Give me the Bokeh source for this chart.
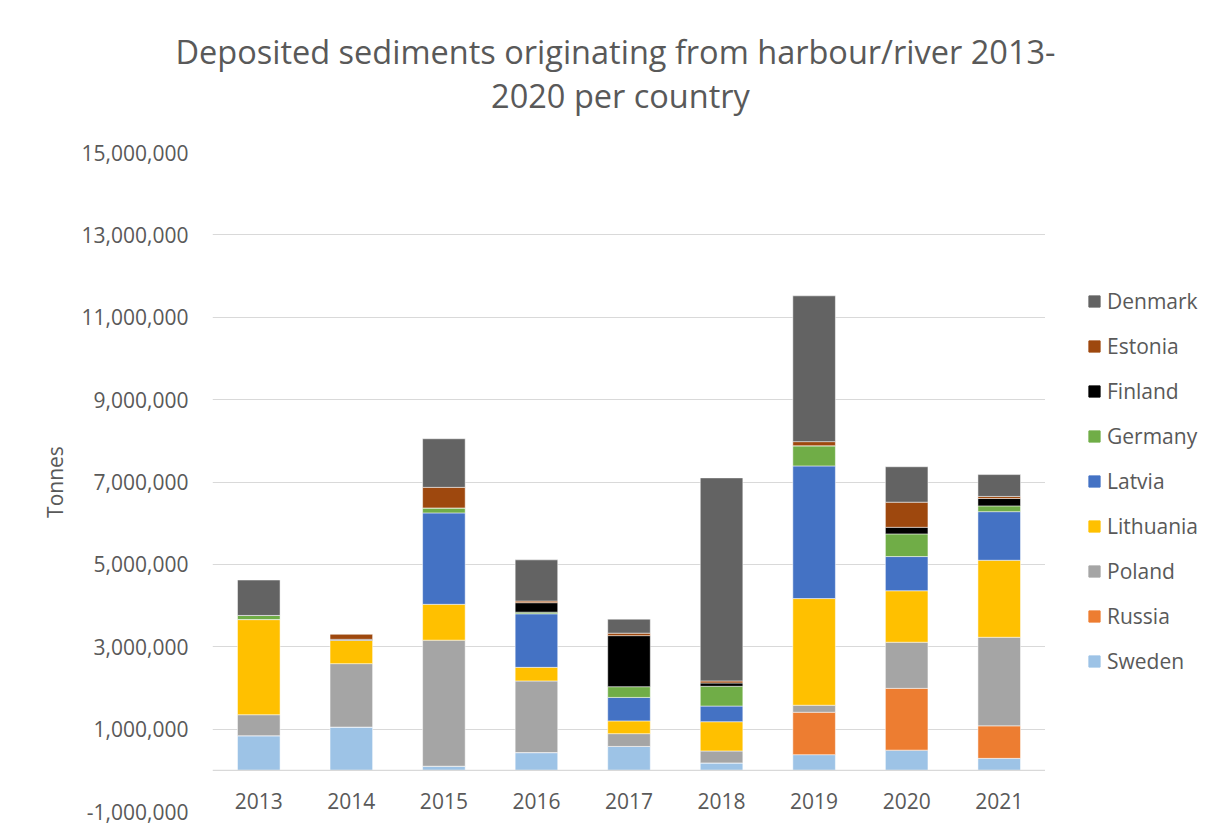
from bokeh.plotting import figure
from bokeh.models import (FactorRange, Range1d, FixedTicker, NumeralTickFormatter, Span,
                          Legend, LegendItem, Label, ColumnDataSource)
from bokeh.layouts import row, column
from bokeh.core.properties import value
from bokeh.embed import file_html
from bokeh.resources import INLINE

years = ["2013", "2014", "2015", "2016", "2017", "2018", "2019", "2020", "2021"]

# values in tonnes, stacked bottom -> top
Sweden    = [840000, 1050000,  100000,  430000,  580000,  180000,  380000,  490000,  290000]
Russia    = [     0,       0,       0,       0,       0,       0, 1030000, 1500000,  790000]
Poland    = [510000, 1540000, 3060000, 1740000,  310000,  290000,  170000, 1120000, 2150000]
Lithuania = [2310000, 570000,  870000,  330000,  310000,  710000, 2590000, 1250000, 1870000]
Latvia    = [     0,       0, 2220000, 1300000,  570000,  380000, 3220000,  830000, 1180000]
Germany   = [100000,       0,  120000,   40000,  260000,  480000,  490000,  550000,  140000]
Finland   = [     0,   20000,       0,  230000, 1240000,   80000,       0,  160000,  180000]
Estonia   = [     0,  130000,  500000,   40000,   60000,   50000,  100000,  610000,   50000]
Denmark   = [860000,       0, 1180000, 1000000,  340000, 4930000, 3540000,  860000,  530000]

countries = ["Sweden", "Russia", "Poland", "Lithuania", "Latvia", "Germany", "Finland", "Estonia", "Denmark"]
colors = ["#9DC3E6", "#ED7D31", "#A5A5A5", "#FFC000", "#4472C4", "#70AD47", "#000000", "#9E480E", "#636363"]

y_ticks = [-1000000, 1000000, 3000000, 5000000, 7000000, 9000000, 11000000, 13000000, 15000000]
y_min, y_max = -1000000, 15000000
label_y = -740000

title_line1 = "Deposited sediments originating from harbour/river 2013-"
title_line2 = "2020 per country"
y_label = "Tonnes"

FONT = "Open Sans"
TXT = "#595959"
GRID = "#D9D9D9"

# ---------- title strip ----------
tf = figure(width=1212, height=130, x_range=Range1d(0, 1), y_range=Range1d(0, 1),
            title=None, output_backend="svg", toolbar_location=None,
            x_axis_location=None, y_axis_location=None,
            min_border_left=0, min_border_right=0, min_border_top=0, min_border_bottom=0)
tf.grid.visible = False
tf.outline_line_color = None
tf.border_fill_color = "white"
tf.add_layout(Label(x=615, y=79, x_units="screen", y_units="screen", text=title_line1,
                    text_align="center", text_baseline="middle", text_font=FONT,
                    text_font_size="32.5px", text_color=TXT))
tf.add_layout(Label(x=620, y=35, x_units="screen", y_units="screen", text=title_line2,
                    text_align="center", text_baseline="middle", text_font=FONT,
                    text_font_size="32.5px", text_color=TXT))

# ---------- main chart ----------
data = dict(year=years, Sweden=Sweden, Russia=Russia, Poland=Poland, Lithuania=Lithuania,
            Latvia=Latvia, Germany=Germany, Finland=Finland, Estonia=Estonia, Denmark=Denmark)
source = ColumnDataSource(data)

p = figure(x_range=FactorRange(factors=years, range_padding=0),
           y_range=Range1d(y_min, y_max),
           width=1045, height=700, title=None,
           output_backend="svg", toolbar_location=None,
           min_border_left=212, min_border_right=0, min_border_top=22, min_border_bottom=19)
p.outline_line_color = None
p.background_fill_color = "white"
p.border_fill_color = "white"

renderers = p.vbar_stack(countries, x="year", width=0.46, color=colors, source=source,
                         line_color="white", line_width=0.5)

# zero line
p.add_layout(Span(location=0, dimension="width", line_color=GRID, line_width=1.2))

# category labels next to the zero axis
lab_src = ColumnDataSource(dict(year=years, ly=[label_y] * len(years)))
p.text(x="year", y="ly", text="year", source=lab_src, text_align="center", text_baseline="middle",
       text_font=value(FONT), text_font_size="21px", text_color=TXT)

p.xaxis.visible = False
p.xgrid.visible = False

p.yaxis.ticker = FixedTicker(ticks=y_ticks)
p.ygrid.ticker = FixedTicker(ticks=y_ticks)
p.ygrid.grid_line_color = GRID
p.ygrid.grid_line_width = 1.2
p.yaxis.formatter = NumeralTickFormatter(format="0,0")
p.yaxis.axis_line_color = None
p.yaxis.major_tick_line_color = None
p.yaxis.minor_tick_line_color = None
p.yaxis.major_tick_out = 0
p.yaxis.major_tick_in = 0
p.yaxis.major_label_standoff = 24
p.yaxis.major_label_text_font = FONT
p.yaxis.major_label_text_font_size = "21px"
p.yaxis.major_label_text_color = TXT
p.yaxis.axis_label = y_label
p.yaxis.axis_label_text_font = FONT
p.yaxis.axis_label_text_font_size = "21px"
p.yaxis.axis_label_text_font_style = "normal"
p.yaxis.axis_label_text_color = TXT
p.yaxis.axis_label_standoff = 10

# ---------- legend strip ----------
lg = figure(width=167, height=700, x_range=Range1d(0, 1), y_range=Range1d(0, 1),
            title=None, output_backend="svg", toolbar_location=None,
            x_axis_location=None, y_axis_location=None,
            min_border_left=0, min_border_right=0, min_border_top=0, min_border_bottom=0)
lg.grid.visible = False
lg.outline_line_color = None
lg.border_fill_color = "white"
leg_renderers = [lg.vbar(x="x", top="top", bottom="top", width=0.0, color=c,
                         source=ColumnDataSource(dict(x=[0], top=[0]))) for c in colors]
items = [LegendItem(label=c, renderers=[r]) for c, r in zip(countries, leg_renderers)][::-1]
legend = Legend(items=items, location=(42, 136), orientation="vertical",
                glyph_width=14, glyph_height=14, label_standoff=6,
                label_text_font=FONT, label_text_font_size="21px", label_text_color=TXT,
                label_height=29, spacing=16, padding=5, margin=0,
                border_line_color=None, background_fill_alpha=0)
lg.add_layout(legend)

layout = column(tf, row(p, lg))
open("out.html", "w").write(file_html(layout, INLINE))
